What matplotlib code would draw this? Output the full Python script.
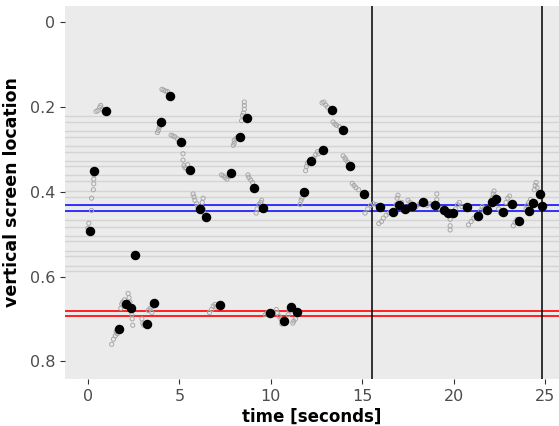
import matplotlib
matplotlib.use("Agg")
import matplotlib.pyplot as plt

# fixations (time [s], vertical screen location)
fix_t = [0.09, 0.35, 0.98, 1.71, 2.11, 2.35, 2.57, 3.21, 3.61, 3.97, 4.49, 5.10,
         5.60, 6.11, 6.47, 7.21, 7.84, 8.33, 8.71, 9.10, 9.59, 9.95, 10.71, 11.09,
         11.44, 11.83, 12.22, 12.84, 13.35, 13.97, 14.35, 15.10, 15.95, 16.70, 16.98,
         17.34, 17.70, 18.34, 18.98, 19.47, 19.70, 19.95, 20.70, 21.35, 21.80, 22.08,
         22.30, 22.68, 23.20, 23.58, 24.09, 24.33, 24.69, 24.84]
fix_y = [0.492, 0.350, 0.209, 0.725, 0.665, 0.675, 0.549, 0.713, 0.662, 0.236, 0.173, 0.283,
         0.349, 0.440, 0.459, 0.667, 0.356, 0.270, 0.226, 0.392, 0.438, 0.686, 0.704, 0.672,
         0.684, 0.401, 0.328, 0.301, 0.207, 0.254, 0.339, 0.405, 0.436, 0.448, 0.431,
         0.441, 0.434, 0.425, 0.431, 0.444, 0.450, 0.450, 0.436, 0.456, 0.442, 0.425,
         0.417, 0.448, 0.429, 0.470, 0.446, 0.426, 0.406, 0.433]

# raw gaze samples
raw_t = [0.00, 0.05, 0.20, 0.20, 0.30, 0.32, 0.32, 0.33,
         0.45, 0.55, 0.65, 0.70, 0.80,
         1.30, 1.40, 1.50, 1.55, 1.60,
         1.80, 1.85, 1.90, 2.00, 1.95,
         2.20, 2.25, 2.30, 2.40, 2.42, 2.45,
         2.95, 3.00, 3.05, 3.10,
         3.30, 3.40, 3.50, 3.50,
         3.80, 3.85, 3.90, 3.92,
         4.05, 4.15, 4.25, 4.35,
         4.55, 4.65, 4.75, 4.90,
         5.20, 5.20, 5.25, 5.30, 5.45, 5.40,
         5.75, 5.80, 5.85, 5.95, 6.00,
         6.25, 6.30, 6.30, 6.35,
         6.65, 6.75, 6.85, 6.95, 7.00,
         7.30, 7.40, 7.50, 7.60, 7.70,
         7.95, 8.00, 8.00, 8.10, 8.15,
         8.40, 8.45, 8.50, 8.55, 8.55, 8.55,
         8.75, 8.80, 8.90, 9.00,
         9.20, 9.25, 9.35, 9.45, 9.50,
         9.70, 9.80, 9.85,
         10.30, 10.35, 10.45, 10.55, 10.60,
         10.95, 11.00,
         11.20, 11.25, 11.35,
         11.60, 11.65, 11.70,
         11.90, 11.95, 12.00, 12.10, 12.35, 12.45, 12.55, 12.60,
         12.80, 12.90, 13.00, 13.10,
         13.40, 13.50, 13.60, 13.75,
         13.95, 14.05, 14.10, 14.20,
         14.45, 14.55, 14.65, 14.80,
         15.15, 15.30, 15.45, 15.60, 15.75,
         15.90, 16.05, 16.15, 16.30, 16.45,
         16.85, 16.90, 16.95,
         17.15, 17.25,
         17.50, 17.60,
         17.95, 18.10, 18.20,
         18.55, 18.70, 18.80,
         19.07, 19.07, 19.10, 19.25,
         19.80, 19.80, 19.80, 19.85,
         20.10, 20.20, 20.30, 20.45,
         20.80, 20.95, 21.10, 21.25,
         21.45, 21.55, 21.65,
         22.10, 22.15, 22.20, 22.25,
         22.45, 22.55, 22.60,
         22.85, 22.95, 23.05,
         23.25, 23.35, 23.45,
         23.95, 24.00, 24.10, 24.20,
         24.40, 24.45, 24.50, 24.55]
raw_y = [0.486, 0.474, 0.444, 0.415, 0.395, 0.381, 0.370, 0.360,
         0.210, 0.208, 0.200, 0.196, 0.205,
         0.760, 0.748, 0.740, 0.730, 0.735,
         0.675, 0.665, 0.660, 0.655, 0.670,
         0.640, 0.650, 0.660, 0.690, 0.700, 0.715,
         0.700, 0.710, 0.715, 0.712,
         0.680, 0.675, 0.685, 0.672,
         0.260, 0.255, 0.248, 0.244,
         0.158, 0.160, 0.162, 0.163,
         0.266, 0.268, 0.270, 0.275,
         0.310, 0.325, 0.338, 0.343, 0.336, 0.345,
         0.405, 0.412, 0.420, 0.428, 0.435,
         0.425, 0.415, 0.440, 0.450,
         0.685, 0.678, 0.670, 0.666, 0.672,
         0.360, 0.362, 0.366, 0.370, 0.364,
         0.290, 0.285, 0.278, 0.275, 0.272,
         0.232, 0.220, 0.214, 0.205, 0.196, 0.188,
         0.360, 0.366, 0.372, 0.378,
         0.450, 0.440, 0.430, 0.425, 0.420,
         0.690, 0.687, 0.684,
         0.678, 0.686, 0.694, 0.700, 0.712,
         0.690, 0.680,
         0.710, 0.705, 0.700,
         0.430, 0.420, 0.415,
         0.350, 0.340, 0.332, 0.330, 0.320, 0.312, 0.305, 0.310,
         0.190, 0.188, 0.195, 0.200,
         0.235, 0.240, 0.243, 0.246,
         0.315, 0.320, 0.325, 0.330,
         0.380, 0.385, 0.390, 0.395,
         0.450, 0.440, 0.432, 0.428, 0.430,
         0.475, 0.470, 0.462, 0.455, 0.450,
         0.430, 0.415, 0.408,
         0.425, 0.435,
         0.420, 0.425,
         0.435, 0.430, 0.426,
         0.432, 0.428, 0.430,
         0.405, 0.418, 0.432, 0.440,
         0.465, 0.480, 0.490, 0.455,
         0.440, 0.430, 0.425, 0.435,
         0.478, 0.470, 0.462, 0.455,
         0.445, 0.435, 0.440,
         0.415, 0.405, 0.398, 0.410,
         0.440, 0.450, 0.445,
         0.425, 0.415, 0.410,
         0.480, 0.472, 0.465,
         0.440, 0.432, 0.425, 0.418,
         0.395, 0.385, 0.378, 0.390]

# text line boundaries
line_y = [0.222, 0.236, 0.2565, 0.2706, 0.291, 0.305, 0.3266, 0.340, 0.3613, 0.3754,
          0.397, 0.411, 0.432, 0.4463, 0.467, 0.482, 0.505, 0.517, 0.539, 0.551,
          0.574, 0.586]
target_y = [0.432, 0.4463]
distract_y = [0.681, 0.693]
events_t = [15.53, 24.84]

fig = plt.figure(figsize=(5.59, 4.26), dpi=100)
ax = fig.add_axes([0.1163, 0.1103, 0.8837, 0.8767])
ax.set_facecolor("#EBEBEB")
for s in ax.spines.values():
    s.set_visible(False)

for y in line_y:
    ax.axhline(y, color="#D4D4D4", lw=1.0, zorder=1)
for y in target_y:
    ax.axhline(y, color="#2424FF", lw=1.3, zorder=2)
for y in distract_y:
    ax.axhline(y, color="#FF1010", lw=1.3, zorder=2)
for t in events_t:
    ax.axvline(t, color="black", lw=1.1, zorder=2)

ax.scatter(raw_t, raw_y, s=9, facecolors="none", edgecolors="#A8A8A8",
           linewidths=0.7, zorder=3)
ax.scatter(fix_t, fix_y, s=34, color="black", zorder=4)

ax.set_xlim(-1.25, 25.75)
ax.set_ylim(0.842, -0.04)
ax.set_xticks([0, 5, 10, 15, 20, 25])
ax.set_yticks([0, 0.2, 0.4, 0.6, 0.8])
ax.set_yticklabels(["0", "0.2", "0.4", "0.6", "0.8"])
ax.tick_params(colors="#333333", labelcolor="#4D4D4D", labelsize=11.5, length=3.5, width=0.8)

ax.set_xlabel("time [seconds]", fontsize=12, fontweight="bold", labelpad=3)
ax.set_ylabel("vertical screen location", fontsize=12.5, fontweight="bold", labelpad=6)

fig.savefig("out.png", dpi=100)
